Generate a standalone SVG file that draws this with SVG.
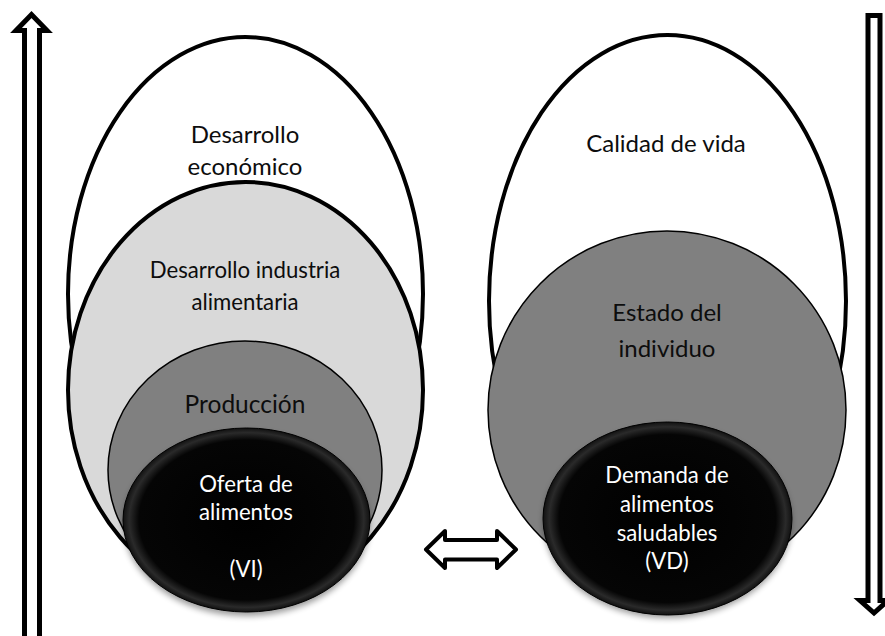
<svg xmlns="http://www.w3.org/2000/svg" width="885" height="636" viewBox="0 0 885 636">
  <defs>
    <style>
      .lbl { font-family: Lato, "Open Sans", "Liberation Sans", sans-serif; font-size: 24px; text-anchor: middle; fill: #0d0d0d; }
      .sm { font-size: 22.2px; }
      .lblw { font-family: Lato, "Open Sans", "Liberation Sans", sans-serif; font-size: 22.2px; text-anchor: middle; fill: #ffffff; }
      .outer { fill: #ffffff; stroke: #000; stroke-width: 4; }
      .light { fill: #d9d9d9; stroke: #000; stroke-width: 4; }
      .mid { fill: #808080; stroke: #000; stroke-width: 1.5; }
      .core { fill: url(#bevel); stroke: #000; stroke-width: 1; }
      .shadow { fill: #000; opacity: 0.4; filter: url(#blur); }
      .arrow { fill: #fff; stroke: #000; stroke-width: 5; stroke-linejoin: miter; }
      .darrow { fill: #fff; stroke: #000; stroke-width: 4; stroke-linejoin: round; }
    </style>
    <radialGradient id="bevel" cx="0.5" cy="0.5" r="0.5">
      <stop offset="0" stop-color="#000"/>
      <stop offset="0.87" stop-color="#050505"/>
      <stop offset="0.95" stop-color="#2a2a2a"/>
      <stop offset="1" stop-color="#111"/>
    </radialGradient>
    <filter id="blur" x="-20%" y="-20%" width="140%" height="140%">
      <feGaussianBlur stdDeviation="3"/>
    </filter>
  </defs>
  <rect width="885" height="636" fill="#fff"/>

  <g id="node-desarrollo-economico">
    <ellipse class="outer" cx="245.5" cy="294" rx="177.5" ry="257"/>
    <text class="lbl" x="245" y="143">Desarrollo</text>
    <text class="lbl" x="245" y="175">económico</text>
  </g>
  <g id="node-desarrollo-industria">
    <ellipse class="light" cx="245.5" cy="390" rx="177.5" ry="208"/>
    <text class="lbl sm" x="245" y="278">Desarrollo industria</text>
    <text class="lbl sm" x="245" y="310">alimentaria</text>
  </g>
  <g id="node-produccion">
    <ellipse class="mid" cx="245" cy="470" rx="137" ry="129"/>
    <text class="lbl" x="245" y="413" style="font-size:24.5px">Producción</text>
  </g>
  <g id="node-oferta">
    <ellipse class="shadow" cx="246.5" cy="524" rx="123" ry="92"/>
    <ellipse class="core" cx="246.5" cy="520" rx="123.5" ry="92"/>
    <text class="lblw" x="246" y="492">Oferta de</text>
    <text class="lblw" x="246" y="520">alimentos</text>
    <text class="lblw" x="246" y="577">(VI)</text>
  </g>

  <g id="node-calidad">
    <ellipse class="outer" cx="667.5" cy="301" rx="178.5" ry="266"/>
    <text class="lbl" x="666" y="152">Calidad de vida</text>
  </g>
  <g id="node-estado">
    <ellipse class="mid" cx="667" cy="410" rx="179" ry="179"/>
    <text class="lbl" x="667" y="321">Estado del</text>
    <text class="lbl" x="667" y="357">individuo</text>
  </g>
  <g id="node-demanda">
    <ellipse class="shadow" cx="667.5" cy="522" rx="124" ry="96"/>
    <ellipse class="core" cx="667.5" cy="518.5" rx="124.5" ry="96.5"/>
    <text class="lblw" x="667" y="483">Demanda de</text>
    <text class="lblw" x="667" y="512">alimentos</text>
    <text class="lblw" x="667" y="541">saludables</text>
    <text class="lblw" x="667" y="569">(VD)</text>
  </g>

  <g id="connectors">
    <path class="arrow" d="M24.5,645 V30.5 H16 L31.5,14.5 L47,30.5 H39.5 V645"/>
    <path class="arrow" d="M868,600.5 V15.5 H880 V600.5 H888 L874,613 L860,600.5 Z"/>
    <path class="darrow" d="M426,549.5 L445,531 V540 H497 V531 L516,549.5 L497,568 V559.5 H445 V568 Z"/>
  </g>
</svg>
